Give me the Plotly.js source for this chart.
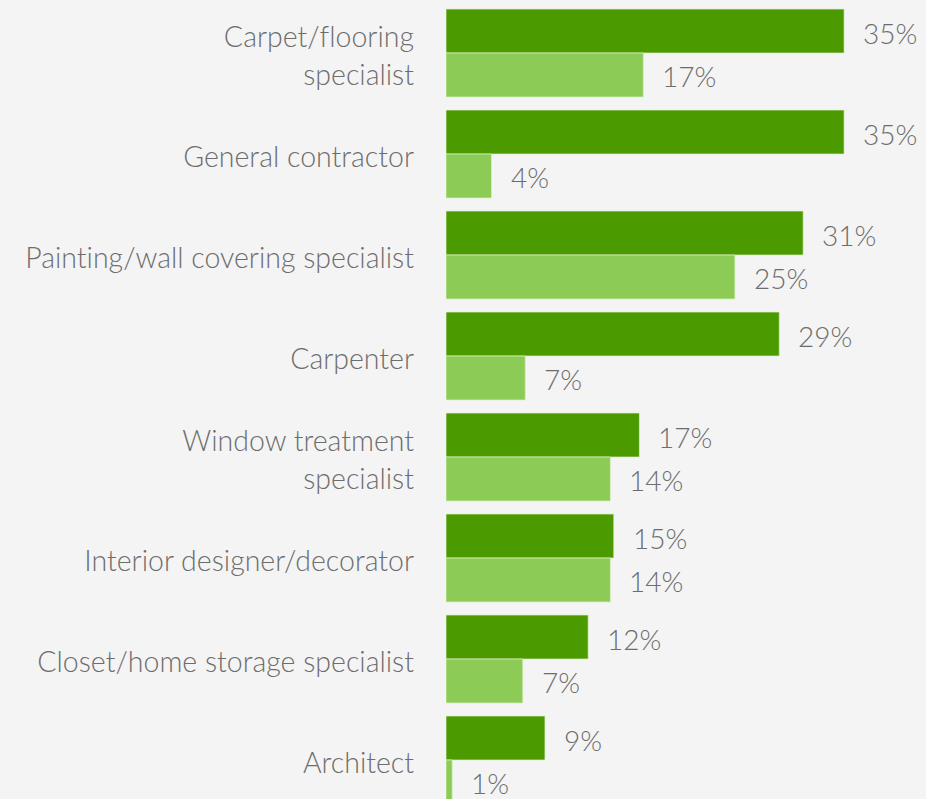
<!DOCTYPE html>
<html><head><meta charset="utf-8">
<script src="https://cdn.plot.ly/plotly-3.0.1.min.js"></script>
<style>html,body{margin:0;padding:0;background:#f4f4f4;}#chart{width:926px;height:799px;}
#chart text{font-variant-ligatures:none;font-feature-settings:"liga" 0, "clig" 0;}</style>
</head><body><div id="chart"></div>
<script>
const categories = ["Carpet/flooring<br>specialist","General contractor","Painting/wall covering specialist","Carpenter","Window treatment<br>specialist","Interior designer/decorator","Closet/home storage specialist","Architect"];
// bar lengths (percent)
const seriesDark = [35,35,31.4,29.3,17,14.75,12.5,8.7];
const seriesLight = [17.35,4,25.4,6.97,14.45,14.45,6.75,0.55];
// printed value labels
const labelsDark = ["35%","35%","31%","29%","17%","15%","12%","9%"];
const labelsLight = ["17%","4%","25%","7%","14%","14%","7%","1%"];

const fontFam = "Lato, 'Open Sans', sans-serif";
const textColor = "#6d6d6d";

const traces = [
  {type:'bar', orientation:'h', y:categories, x:seriesDark, marker:{color:'#4b9a00', line:{color:'rgba(220,240,200,0.7)', width:1}}, hoverinfo:'none'},
  {type:'bar', orientation:'h', y:categories, x:seriesLight, marker:{color:'#8dcb57', line:{color:'rgba(220,240,200,0.7)', width:1}}, hoverinfo:'none'}
];

const annotations = [];
categories.forEach((c,i)=>{
  annotations.push({x:seriesDark[i], y:c, text:labelsDark[i], xanchor:'left', yanchor:'middle', xshift:17, yshift:20, showarrow:false, font:{family:fontFam, size:28, color:textColor, weight:300}});
  annotations.push({x:seriesLight[i], y:c, text:labelsLight[i], xanchor:'left', yanchor:'middle', xshift:17, yshift:-23, showarrow:false, font:{family:fontFam, size:28, color:textColor, weight:300}});
});

const layout = {
  width:926, height:799,
  margin:{l:446, r:0, t:0, b:0},
  paper_bgcolor:'#f4f4f4', plot_bgcolor:'#f4f4f4',
  showlegend:false,
  barmode:'group', bargap:0.129, bargroupgap:0,
  xaxis:{range:[0,42.2], visible:false, fixedrange:true},
  yaxis:{type:'category', range:[7.386,-0.525], showgrid:false, zeroline:false, showline:false, ticks:'', ticklabelstandoff:31, ticklabelshift:-3, tickfont:{family:fontFam, size:28.5, color:textColor, weight:300}, fixedrange:true},
  annotations:annotations,
  font:{family:fontFam}
};
Plotly.newPlot('chart', traces, layout, {displayModeBar:false, staticPlot:true});
</script></body></html>
